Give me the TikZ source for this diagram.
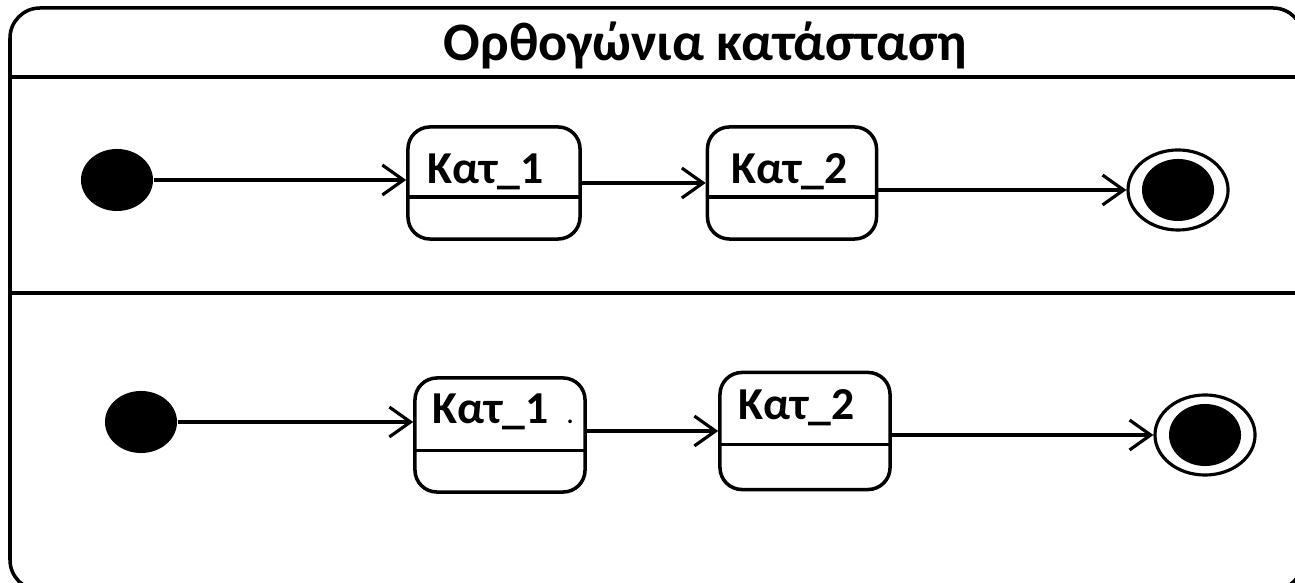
\documentclass[tikz,border=0pt]{standalone}
\usepackage{fontspec}
\setmainfont{Carlito}
\usetikzlibrary{arrows.meta, positioning, calc, shapes.geometric}

\tikzset{
  state/.style={draw, line width=1pt, rounded corners=0.22cm, inner sep=0pt},
  lbl/.style={font=\fontsize{13}{15}\selectfont\bfseries, inner sep=0pt, anchor=base west},
  trans/.style={line width=0.9pt, -{Straight Barb[length=6pt,width=8.5pt]}},
  initial/.style={ellipse, fill=black, minimum width=0.72cm, minimum height=0.62cm, inner sep=0pt},
  finalring/.style={ellipse, draw, line width=0.9pt, minimum width=1.0cm, minimum height=0.8cm, inner sep=0pt},
  finaldot/.style={ellipse, fill=black, minimum width=0.72cm, minimum height=0.62cm, inner sep=0pt},
}

\begin{document}
\begin{tikzpicture}[x=0.01cm, y=-0.01cm]
  \useasboundingbox (0,0) rectangle (1295,583);
  % frame of the composite state, cut by the page on the right and bottom
  \begin{scope}
    \clip (0,0) rectangle (1295,583);
    \draw[line width=1pt, rounded corners=0.3cm] (10,8) rectangle (1303,590);
    \draw[line width=1pt] (10,77) -- (1303,77);
    \draw[line width=1pt] (10,293) -- (1303,293);
  \end{scope}
  \node[lbl, font=\fontsize{15.4}{17}\selectfont\bfseries] (title) at (443,61) {Ορθογώνια κατάσταση};

  % upper region
  \node[initial] (init1) at (117,180) {};
  \node[state, minimum width=1.72cm, minimum height=1.12cm] (box1a) at (494,183) {};
  \node[state, minimum width=1.69cm, minimum height=1.12cm] (box2a) at (792,183) {};
  \node[finalring] (final1) at (1178,190) {};
  \node[finaldot] (final1in) at (1178,190) {};
  \draw[line width=1pt] ($(box1a.north west)!0.62!(box1a.south west)$) -- ($(box1a.north east)!0.62!(box1a.south east)$);
  \draw[line width=1pt] ($(box2a.north west)!0.62!(box2a.south west)$) -- ($(box2a.north east)!0.62!(box2a.south east)$);
  \node[lbl] (lbl1a) at (427,184) {Κατ\_1};
  \node[lbl] (lbl2a) at (731,184) {Κατ\_2};
  \draw[trans] (init1.east) -- (init1.east -| box1a.west);
  \draw[trans] (box1a) -- (box2a);
  \draw[trans] (box2a.east |- final1.west) -- (final1.west);

  % lower region
  \node[initial] (init2) at (141,422) {};
  \node[state, minimum width=1.70cm, minimum height=1.14cm] (box1b) at (500,435) {};
  \node[state, minimum width=1.70cm, minimum height=1.17cm] (box2b) at (805,431) {};
  \node[finalring] (final2) at (1205,435) {};
  \node[finaldot] (final2in) at (1205,435) {};
  \draw[line width=1pt] ($(box1b.north west)!0.63!(box1b.south west)$) -- ($(box1b.north east)!0.63!(box1b.south east)$);
  \draw[line width=1pt] ($(box2b.north west)!0.61!(box2b.south west)$) -- ($(box2b.north east)!0.61!(box2b.south east)$);
  \node[lbl] (lbl1b) at (432,424) {Κατ\_1\hspace{0.4em}{\fontsize{7}{8}\selectfont .}};
  \node[lbl] (lbl2b) at (738,420) {Κατ\_2};
  \draw[trans] (init2.east) -- (init2.east -| box1b.west);
  \draw[trans] (box1b.east |- box2b.west) -- (box2b.west);
  \draw[trans] (box2b.east |- final2.west) -- (final2.west);
\end{tikzpicture}
\end{document}
